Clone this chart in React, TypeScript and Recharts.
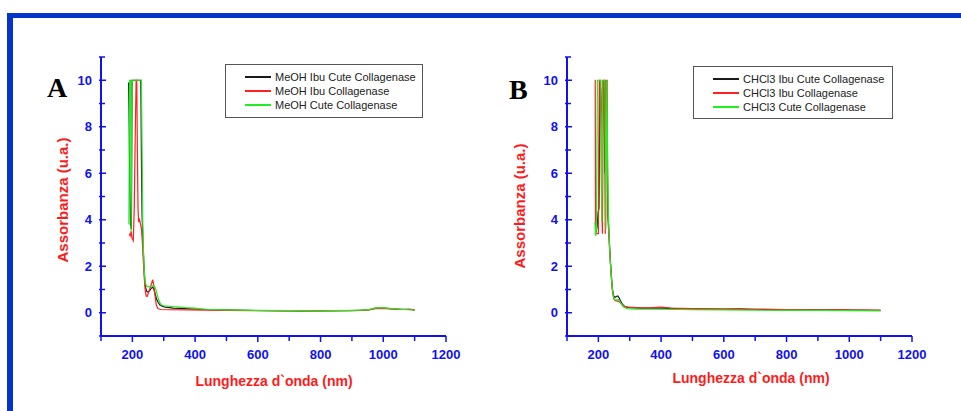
import { LineChart, Line, XAxis, YAxis, Legend } from "recharts";

type Pt = [number, number];

// UV-Vis spectra, [wavelength nm, absorbance]
const meohIbuCute: Pt[] = [
  [188, 9.9], [190, 8.0], [192, 5.5], [194, 3.8], [197, 3.6], [199, 10], [204, 10], [208, 10],
  [212, 10], [216, 10], [220, 10], [224, 10], [227, 10], [229, 6.5], [231, 4.2], [233, 3.4],
  [236, 2.3], [239, 1.5], [242, 1.1], [246, 0.92], [250, 0.88], [255, 0.95], [260, 1.05],
  [265, 1.1], [269, 1.0], [273, 0.8], [277, 0.6], [282, 0.45], [288, 0.33], [295, 0.28],
  [305, 0.24], [330, 0.2], [370, 0.18], [420, 0.15], [480, 0.12], [560, 0.1], [650, 0.09],
  [750, 0.08], [850, 0.09], [930, 0.1], [955, 0.13], [975, 0.2], [1000, 0.2], [1030, 0.17],
  [1060, 0.14], [1085, 0.15], [1100, 0.12],
];
const meohIbu: Pt[] = [
  [190, 3.4], [193, 3.3], [196, 3.5], [199, 3.2], [203, 3.1], [206, 4.5], [209, 7.5], [212, 10],
  [214, 10], [216, 7.0], [218, 4.5], [220, 3.9], [223, 4.0], [226, 3.8], [229, 3.6], [232, 3.0],
  [235, 2.2], [238, 1.5], [241, 0.95], [244, 0.72], [247, 0.7], [251, 0.85], [256, 1.05],
  [261, 1.25], [265, 1.42], [268, 1.2], [272, 0.75], [276, 0.35], [281, 0.18], [290, 0.14],
  [320, 0.13], [380, 0.12], [430, 0.11], [500, 0.1], [600, 0.09], [700, 0.08], [800, 0.08],
  [900, 0.09], [950, 0.11], [975, 0.18], [1000, 0.19], [1040, 0.16], [1080, 0.15], [1100, 0.12],
];
const meohCute: Pt[] = [
  [189, 3.8], [191, 10], [194, 10], [196, 3.5], [199, 10], [205, 10], [210, 10], [215, 10],
  [220, 10], [225, 10], [229, 10], [231, 7.0], [233, 4.0], [235, 2.8], [238, 1.8], [241, 1.3],
  [245, 1.15], [250, 1.12], [256, 1.12], [262, 1.15], [267, 1.17], [272, 1.1], [277, 0.9],
  [282, 0.65], [287, 0.45], [293, 0.34], [300, 0.3], [330, 0.26], [370, 0.22], [400, 0.2],
  [430, 0.15], [500, 0.12], [600, 0.1], [700, 0.09], [800, 0.08], [900, 0.1], [950, 0.12],
  [965, 0.18], [980, 0.21], [1000, 0.21], [1020, 0.19], [1050, 0.16], [1080, 0.13], [1100, 0.11],
];

const chcl3IbuCute: Pt[] = [
  [190, 3.4], [193, 3.5], [196, 3.7], [199, 4.3], [202, 4.5], [205, 10], [208, 9.5], [211, 7.5],
  [214, 10], [218, 9.4], [221, 6.0], [224, 10], [227, 9.0], [230, 4.5], [233, 3.6], [236, 2.8],
  [239, 2.1], [242, 1.5], [245, 1.0], [249, 0.72], [253, 0.66], [257, 0.7], [262, 0.72],
  [267, 0.62], [271, 0.5], [276, 0.38], [281, 0.3], [288, 0.25], [300, 0.22], [340, 0.2],
  [400, 0.2], [450, 0.18], [520, 0.16], [600, 0.15], [700, 0.14], [800, 0.12], [900, 0.12],
  [1000, 0.11], [1100, 0.1],
];
const chcl3Ibu: Pt[] = [
  [189, 10], [190, 10], [191, 3.4], [195, 3.4], [200, 3.4], [203, 10], [207, 10], [210, 5.0],
  [213, 3.4], [216, 10], [219, 10], [222, 3.4], [224, 10], [228, 10], [230, 4.2], [233, 3.5],
  [236, 2.7], [239, 2.0], [242, 1.4], [245, 0.9], [249, 0.6], [254, 0.52], [260, 0.5],
  [266, 0.48], [271, 0.42], [276, 0.35], [282, 0.28], [290, 0.24], [320, 0.22], [360, 0.21],
  [400, 0.24], [430, 0.2], [500, 0.18], [600, 0.17], [650, 0.18], [700, 0.16], [800, 0.14],
  [900, 0.13], [960, 0.14], [1000, 0.12], [1050, 0.11], [1100, 0.1],
];
const chcl3Cute: Pt[] = [
  [189, 3.9], [191, 3.3], [194, 3.6], [197, 10], [201, 10], [205, 10], [208, 10], [211, 3.9],
  [214, 10], [218, 10], [221, 10], [224, 3.6], [227, 10], [230, 6.0], [232, 4.3], [235, 3.0],
  [238, 2.2], [241, 1.6], [244, 1.1], [248, 0.7], [252, 0.55], [258, 0.55], [264, 0.56],
  [268, 0.5], [273, 0.38], [278, 0.28], [284, 0.22], [292, 0.18], [320, 0.16], [400, 0.15],
  [500, 0.13], [600, 0.12], [700, 0.11], [800, 0.1], [900, 0.1], [1000, 0.09], [1100, 0.08],
];

const xTicks = [100, 200, 300, 400, 500, 600, 700, 800, 900, 1000, 1100, 1200];
const yTicks = [-1, 0, 1, 2, 3, 4, 5, 6, 7, 8, 9, 10, 11];

const AXIS_BLUE = "#1010f0";
const TITLE_RED = "#ff1a1a";
const SANS = "'Liberation Sans', Arial, sans-serif";
const SERIF = "'Liberation Serif', 'Times New Roman', serif";

const toRows = (pts: Pt[]) => pts.map(([x, y]) => ({ x, y }));

function XTick({ x, y, payload }: any) {
  const v = payload.value;
  const major = v % 200 === 0;
  return (
    <g>
      <line x1={x} y1={y} x2={x} y2={y + (major ? 6 : 5)} stroke={AXIS_BLUE} strokeWidth={1.5} />
      {major && (
        <text x={x} y={y + 18} textAnchor="middle" dominantBaseline="central" fill={AXIS_BLUE}
          fontSize={13} fontWeight="bold" fontFamily={SANS}>
          {v}
        </text>
      )}
    </g>
  );
}

function YTick({ x, y, payload }: any) {
  const v = payload.value;
  const major = v % 2 === 0 && v >= 0 && v <= 10;
  return (
    <g>
      <line x1={x - 2} y1={y} x2={x + (major ? 5 : 4)} y2={y} stroke={AXIS_BLUE} strokeWidth={1.5} />
      {major && (
        <text x={x - 9} y={y} textAnchor="end" dominantBaseline="central" fill={AXIS_BLUE}
          fontSize={13} fontWeight="bold" fontFamily={SANS}>
          {v}
        </text>
      )}
    </g>
  );
}

interface Series { name: string; color: string; points: Pt[] }

// legend entries come straight from the series list so order and colours stay fixed
function LegendBox({ series, width, height }: { series: Series[]; width: number; height: number }) {
  return (
    <div style={{
      width, height, boxSizing: "border-box", border: "1px solid #555", background: "#fff",
      padding: "5px 0 0 19px", fontFamily: SANS, fontSize: 11, color: "#222", lineHeight: "14px",
    }}>
      {series.map((s) => (
        <div key={s.name} style={{ display: "flex", alignItems: "center", height: 14, whiteSpace: "nowrap" }}>
          <span style={{ display: "inline-block", width: 26, height: 0, borderTop: `2px solid ${s.color}`, marginRight: 4 }} />
          <span>{s.name}</span>
        </div>
      ))}
    </div>
  );
}

interface PanelProps {
  letter: string;
  width: number;
  plotLeft: number;
  plotRight: number;
  series: Series[];
  legend: { left: number; top: number; width: number; height: number };
  letterAt: [number, number];
  yTitleAt: [number, number];
  xTitleAt: [number, number];
}

function Panel({ letter, width, plotLeft, plotRight, series, legend, letterAt, yTitleAt, xTitleAt }: PanelProps) {
  return (
    <LineChart width={width} height={411}
      margin={{ top: 57, right: width - plotRight, bottom: 35, left: plotLeft - 40 }}>
      <XAxis type="number" dataKey="x" domain={[100, 1200]} ticks={xTicks} interval={0}
        tick={<XTick />} tickLine={false} tickSize={0} tickMargin={0} height={40}
        axisLine={{ stroke: AXIS_BLUE, strokeWidth: 2 }} allowDataOverflow />
      <YAxis type="number" domain={[-1, 11]} ticks={yTicks} interval={0}
        tick={<YTick />} tickLine={false} tickSize={0} tickMargin={0} width={40}
        axisLine={{ stroke: AXIS_BLUE, strokeWidth: 2 }} allowDataOverflow />
      {series.map((s) => (
        <Line key={s.name} data={toRows(s.points)} dataKey="y" name={s.name} type="linear"
          stroke={s.color} strokeWidth={1.2} dot={false} activeDot={false} isAnimationActive={false} />
      ))}
      <Legend layout="vertical" align="center" verticalAlign="middle"
        content={() => <LegendBox series={series} width={legend.width} height={legend.height} />}
        wrapperStyle={{ position: "absolute", left: legend.left, top: legend.top, width: legend.width, height: legend.height }} />
      <text x={letterAt[0]} y={letterAt[1]} fontFamily={SERIF} fontWeight="bold" fontSize={28} fill="#000">
        {letter}
      </text>
      <text x={yTitleAt[0]} y={yTitleAt[1]} transform={`rotate(-90, ${yTitleAt[0]}, ${yTitleAt[1]})`}
        textAnchor="middle" dominantBaseline="central" fontFamily={SANS} fontWeight="bold" fontSize={15} fill={TITLE_RED}>
        Assorbanza (u.a.)
      </text>
      <text x={xTitleAt[0]} y={xTitleAt[1]} textAnchor="middle" dominantBaseline="central"
        fontFamily={SANS} fontWeight="bold" fontSize={14} fill={TITLE_RED}>
        Lunghezza d`onda (nm)
      </text>
    </LineChart>
  );
}

const BLACK = "#1a1a1a";
const RED = "#ff2020";
const GREEN = "#20ee20";

export default function App() {
  return (
    <div style={{ position: "absolute", left: 0, top: 0, width: 961, height: 411, background: "#fff", overflow: "hidden" }}>
      <div style={{ position: "absolute", left: 7, top: 13, width: 954, height: 5, background: "#0434cc" }} />
      <div style={{ position: "absolute", left: 7, top: 13, width: 6, height: 398, background: "#0434cc" }} />
      <div style={{ position: "absolute", left: 0, top: 0 }}>
        <Panel
          letter="A" width={480} plotLeft={101} plotRight={446}
          series={[
            { name: "MeOH Ibu Cute Collagenase", color: BLACK, points: meohIbuCute },
            { name: "MeOH Ibu Collagenase", color: RED, points: meohIbu },
            { name: "MeOH Cute Collagenase", color: GREEN, points: meohCute },
          ]}
          legend={{ left: 225, top: 64, width: 198, height: 54 }}
          letterAt={[47, 97]} yTitleAt={[62, 200]} xTitleAt={[274, 381]}
        />
      </div>
      <div style={{ position: "absolute", left: 480, top: 0 }}>
        <Panel
          letter="B" width={481} plotLeft={87} plotRight={432}
          series={[
            { name: "CHCl3 Ibu Cute Collagenase", color: BLACK, points: chcl3IbuCute },
            { name: "CHCl3 Ibu Collagenase", color: RED, points: chcl3Ibu },
            { name: "CHCl3 Cute Collagenase", color: GREEN, points: chcl3Cute },
          ]}
          legend={{ left: 213, top: 66, width: 200, height: 53 }}
          letterAt={[29, 99]} yTitleAt={[39, 206]} xTitleAt={[271, 378]}
        />
      </div>
    </div>
  );
}
